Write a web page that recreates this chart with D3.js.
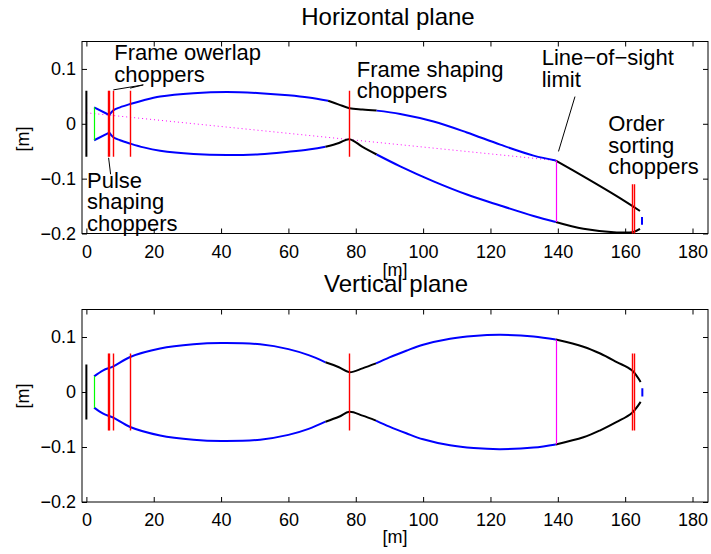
<!DOCTYPE html>
<html>
<head>
<meta charset="utf-8">
<script src="https://cdn.jsdelivr.net/npm/d3@7/dist/d3.min.js"></script>
<style>
  body { margin: 0; background: #fff; }
  svg { font-family: Helvetica, 'Liberation Sans', Arial, sans-serif; }
</style>
</head>
<body>
<div id="chart"></div>
<script>
// ticks
const xTicks = [0, 20, 40, 60, 80, 100, 120, 140, 160, 180]
const yTicks = [-0.2, -0.1, 0, 0.1]

// Horizontal plane: beam envelope segments [x, y]
const hUpperIn = [[2.3, 0.03], [6.8, 0.016]]
const hLowerIn = [[2.3, -0.03], [6.8, -0.016]]
const hUpperA = [[6.8, 0.016], [8, 0.0245], [10, 0.030], [13, 0.036], [17, 0.043], [21.9, 0.0497], [31.8, 0.0558], [41.7, 0.058], [51.6, 0.0558], [60, 0.052], [66, 0.048], [71.8, 0.042]]
const hUpperB = [[71.8, 0.042], [75, 0.035], [78.1, 0.0285], [82, 0.026], [86.2, 0.024]]
const hUpperC = [[86.2, 0.024], [93.2, 0.018], [103.1, 0.0042], [113, -0.0158], [122.9, -0.038], [132.8, -0.058], [139.4, -0.067]]
const hUpperD = [[139.4, -0.067], [147.6, -0.096], [157.5, -0.132], [164.4, -0.159]]
const hLowerA = [[6.8, -0.016], [8, -0.0245], [10, -0.030], [13, -0.036], [17, -0.043], [21.9, -0.049], [31.8, -0.055], [41.7, -0.057], [51.6, -0.0555], [60, -0.051], [66, -0.047], [71, -0.042]]
const hLowerB = [[71, -0.042], [75, -0.035], [78.1, -0.028], [82, -0.042], [86.2, -0.056]]
const hLowerC = [[86.2, -0.056], [93.2, -0.0776], [103.1, -0.105], [113, -0.129], [122.9, -0.149], [132.8, -0.168], [139.4, -0.179]]
const hLowerD = [[139.4, -0.179], [147.6, -0.1915], [157.5, -0.198], [162.5, -0.197], [164.4, -0.1915]]
const hExit = [[165, -0.17], [165, -0.184]]
const hSightLine = [[0, 0.02], [139.4, -0.067]]

// Horizontal plane: vertical markers [x, y0, y1]
const hSource = [[0, -0.06, 0.06]]
const hGuideStart = [[2.3, -0.03, 0.03]]
const hChoppers = [[6.5, -0.06, 0.06], [6.8, -0.06, 0.06], [8, -0.06, 0.06], [13, -0.06, 0.06], [78.1, -0.06, 0.06], [162, -0.25, -0.11], [162.6, -0.25, -0.11]]
const hLos = [[139.4, -0.179, -0.067]]

// Vertical plane: beam envelope segments [x, y]
const vUpperA = [[2.3, 0.0285], [5, 0.0395], [8, 0.0467], [13, 0.0636], [21.9, 0.079], [31.8, 0.0867], [40, 0.089], [51.6, 0.0867], [60, 0.078], [66, 0.067], [71, 0.054]]
const vUpperB = [[71, 0.054], [75, 0.045], [78.1, 0.036], [82, 0.043], [86, 0.052]]
const vUpperC = [[86, 0.052], [90, 0.063], [95, 0.075], [100, 0.086], [108, 0.097], [115, 0.102], [122.9, 0.104], [132.8, 0.101], [139.4, 0.0953]]
const vUpperD = [[139.4, 0.0953], [147.6, 0.0824], [152.6, 0.07], [157.5, 0.0545], [162, 0.0395], [164.6, 0.018]]
const vLowerA = [[2.3, -0.0285], [5, -0.0395], [8, -0.0467], [13, -0.0636], [21.9, -0.079], [31.8, -0.0867], [40, -0.089], [51.6, -0.0867], [60, -0.078], [66, -0.067], [71, -0.054]]
const vLowerB = [[71, -0.054], [75, -0.045], [78.1, -0.036], [82, -0.043], [86, -0.052]]
const vLowerC = [[86, -0.052], [90, -0.063], [95, -0.075], [100, -0.086], [108, -0.097], [115, -0.102], [122.9, -0.104], [132.8, -0.101], [139.4, -0.0953]]
const vLowerD = [[139.4, -0.0953], [147.6, -0.0824], [152.6, -0.0697], [157.5, -0.0545], [162, -0.038], [164.6, -0.018]]
const vExit = [[165.1, 0.007], [165.1, -0.008]]

const vSource = [[0, -0.05, 0.05]]
const vGuideStart = [[2.3, -0.029, 0.029]]
const vChoppers = [[6.5, -0.07, 0.07], [6.8, -0.07, 0.07], [8, -0.07, 0.07], [13, -0.07, 0.07], [78.1, -0.07, 0.07], [162, -0.07, 0.07], [162.6, -0.07, 0.07]]
const vLos = [[139.4, -0.095, 0.095]]

// annotations (horizontal plane only)
const notes = [
  { lines: ['Frame owerlap', 'choppers'], at: [8.3, 0.116] },
  { lines: ['Pulse', 'shaping', 'choppers'], at: [0.2, -0.117] },
  { lines: ['Frame shaping', 'choppers'], at: [80.3, 0.086] },
  { lines: ['Line\u2212of\u2212sight', 'limit'], at: [135.2, 0.107] },
  { lines: ['Order', 'sorting', 'choppers'], at: [155, -0.014] }
]
const pointers = [
  [[8, 0.0618], [16.9, 0.0709]],
  [[13, 0.065], [16.9, 0.0709]],
  [[6.6, -0.062], [7.2, -0.092]],
  [[140.2, -0.0504], [145.1, 0.0496]]
]

const W = 711, H = 554
const svg = d3.select('#chart').append('svg')
  .attr('width', W).attr('height', H)
  .attr('viewBox', [0, 0, W, H].join(' '))

const x = d3.scaleLinear().domain([-1.3, 184.6]).range([82, 708])
const snap = v => Math.round(v) + 0.5

function panel({ top, bottom, title, titleX, titleY, ylabelY, xlabelY, segments, markers, dotted }) {
  const y = d3.scaleLinear().domain([-0.2, 0.15]).range([bottom, top])
  const g = svg.append('g')
  const clipId = 'clip' + Math.round(top)

  g.append('clipPath').attr('id', clipId)
    .append('rect')
    .attr('x', x.range()[0]).attr('y', top)
    .attr('width', x.range()[1] - x.range()[0]).attr('height', bottom - top)

  // axes with inward ticks on all four sides
  const fmt = d => d === 0 ? '0' : d3.format('.1f')(d)
  g.append('g')
    .attr('transform', `translate(0,${bottom})`)
    .call(d3.axisBottom(x).tickValues(xTicks).tickSizeInner(-5).tickSizeOuter(0).tickPadding(11.5))
  g.append('g')
    .attr('transform', `translate(0,${top})`)
    .call(d3.axisTop(x).tickValues(xTicks).tickSizeInner(-5).tickSizeOuter(0).tickFormat(''))
  g.append('g')
    .attr('transform', `translate(${x.range()[0]},0)`)
    .call(d3.axisLeft(y).tickValues(yTicks).tickSizeInner(-5).tickSizeOuter(0).tickPadding(6).tickFormat(fmt))
  g.append('g')
    .attr('transform', `translate(${x.range()[1]},0)`)
    .call(d3.axisRight(y).tickValues(yTicks).tickSizeInner(-5).tickSizeOuter(0).tickFormat(''))
  g.selectAll('.domain').remove()
  g.selectAll('.tick line').attr('stroke', '#000')
  g.selectAll('.tick text').attr('font-size', 18).attr('fill', '#000').attr('font-family', null)

  g.append('rect')
    .attr('x', x.range()[0]).attr('y', top)
    .attr('width', x.range()[1] - x.range()[0]).attr('height', bottom - top)
    .attr('fill', 'none').attr('stroke', '#000').attr('stroke-width', 1)

  const plot = g.append('g').attr('clip-path', `url(#${clipId})`)
  const line = d3.line().x(d => x(d[0])).y(d => y(d[1])).curve(d3.curveCatmullRom.alpha(0.5))
  const straight = d3.line().x(d => x(d[0])).y(d => y(d[1]))

  if (dotted) {
    plot.append('path')
      .attr('d', straight(dotted))
      .attr('fill', 'none').attr('stroke', '#ff00ff')
      .attr('stroke-width', 1).attr('stroke-dasharray', '1,3')
  }

  plot.selectAll('path.seg')
    .data(segments)
    .join('path')
    .attr('class', 'seg')
    .attr('d', d => (d.pts.length > 2 ? line : straight)(d.pts))
    .attr('fill', 'none')
    .attr('stroke', d => d.color)
    .attr('stroke-width', 2)

  // markers go on top of the envelope
  plot.selectAll('line.marker')
    .data(markers)
    .join('line')
    .attr('class', 'marker')
    .attr('x1', d => d.width < 2 ? snap(x(d.x)) : x(d.x))
    .attr('x2', d => d.width < 2 ? snap(x(d.x)) : x(d.x))
    .attr('y1', d => y(d.y0)).attr('y2', d => y(d.y1))
    .attr('stroke', d => d.color)
    .attr('stroke-width', d => d.width)

  // labels
  svg.append('text').attr('x', titleX).attr('y', titleY)
    .attr('font-size', 24).attr('text-anchor', 'middle').text(title)
  svg.append('text').attr('x', 395).attr('y', xlabelY)
    .attr('font-size', 18).attr('text-anchor', 'middle').text('[m]')
  svg.append('text')
    .attr('transform', `translate(29,${ylabelY}) rotate(-90)`)
    .attr('font-size', 18).attr('text-anchor', 'middle').text('[m]')

  return { y, g }
}

const markerRows = (rows, color, width) => rows.map(([mx, y0, y1]) => ({ x: mx, y0, y1, color, width }))
const seg = (pts, color) => ({ pts, color })

const blue = '#0000ff', black = '#000000', red = '#ff0000', magenta = '#ff00ff', green = '#00ff00'

const hPanel = panel({
  top: 41.5, bottom: 233.5,
  title: 'Horizontal plane', titleX: 388, titleY: 25,
  xlabelY: 276, ylabelY: 139,
  dotted: hSightLine,
  segments: [
    seg(hUpperIn, blue), seg(hLowerIn, blue),
    seg(hUpperA, blue), seg(hUpperB, black), seg(hUpperC, blue), seg(hUpperD, black),
    seg(hLowerA, blue), seg(hLowerB, black), seg(hLowerC, blue), seg(hLowerD, black),
    seg(hExit, blue)
  ],
  markers: [
    ...markerRows(hSource, black, 2),
    ...markerRows(hGuideStart, green, 1.2),
    ...markerRows(hLos, magenta, 1.2),
    ...markerRows(hChoppers, red, 1.4)
  ]
})

panel({
  top: 309.5, bottom: 502,
  title: 'Vertical plane', titleX: 396, titleY: 292,
  xlabelY: 543, ylabelY: 396,
  segments: [
    seg(vUpperA, blue), seg(vUpperB, black), seg(vUpperC, blue), seg(vUpperD, black),
    seg(vLowerA, blue), seg(vLowerB, black), seg(vLowerC, blue), seg(vLowerD, black),
    seg(vExit, blue)
  ],
  markers: [
    ...markerRows(vSource, black, 2),
    ...markerRows(vGuideStart, green, 1.2),
    ...markerRows(vLos, magenta, 1.2),
    ...markerRows(vChoppers, red, 1.4)
  ]
})

// annotation text and pointer lines
const ty = hPanel.y
hPanel.g.selectAll('line.ptr')
  .data(pointers)
  .join('line')
  .attr('class', 'ptr')
  .attr('x1', d => x(d[0][0])).attr('y1', d => ty(d[0][1]))
  .attr('x2', d => x(d[1][0])).attr('y2', d => ty(d[1][1]))
  .attr('stroke', '#000').attr('stroke-width', 1)

notes.forEach(n => {
  const t = hPanel.g.append('text')
    .attr('x', x(n.at[0])).attr('y', ty(n.at[1]))
    .attr('font-size', 22)
  n.lines.forEach((s, i) => {
    t.append('tspan').attr('x', x(n.at[0])).attr('dy', i === 0 ? 0 : 21.5).text(s)
  })
})
</script>
</body>
</html>
